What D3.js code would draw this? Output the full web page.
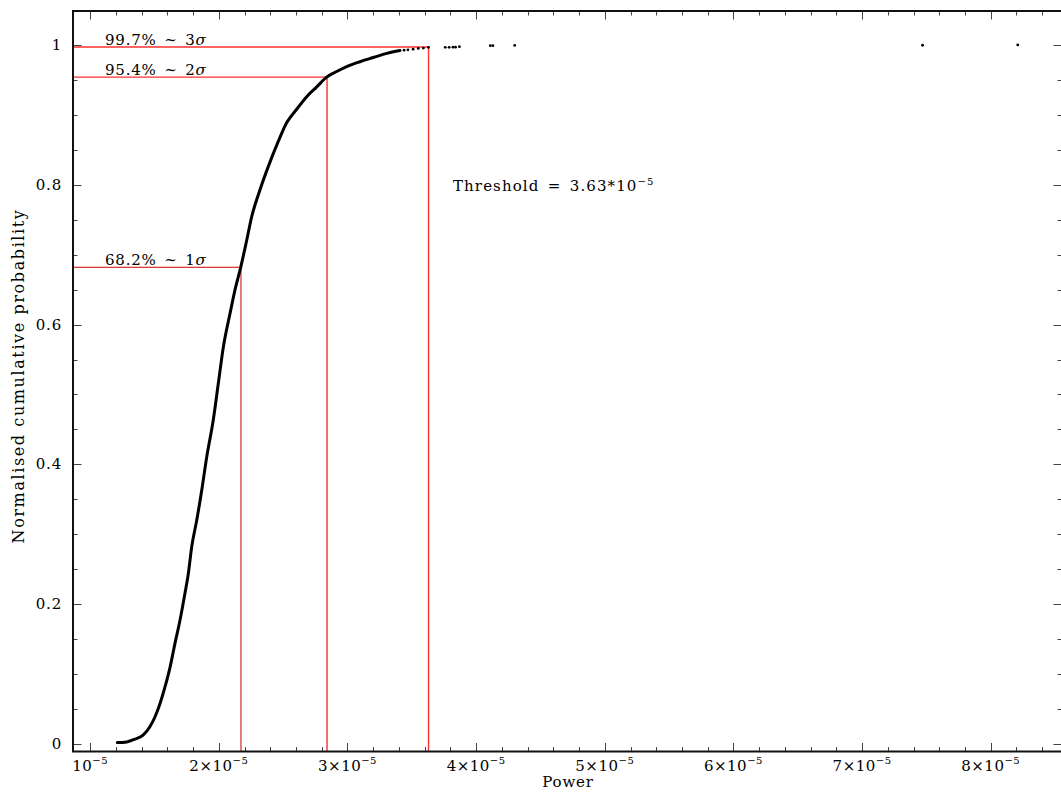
<!DOCTYPE html>
<html>
<head>
<meta charset="utf-8">
<script src="https://cdn.jsdelivr.net/npm/d3@7"></script>
<style>
  body { margin: 0; background: #fff; }
  svg { display: block; }
  text { font-family: "DejaVu Serif", "Liberation Serif", serif; fill: #000; }
</style>
</head>
<body>
<svg id="chart" width="1061" height="793"></svg>
<script>
// Cumulative distribution of power: dense part of the curve
const powerCurve = [1.211, 1.284, 1.348, 1.413, 1.465, 1.504, 1.543, 1.582, 1.621, 1.659,
  1.698, 1.737, 1.763, 1.789, 1.828, 1.867, 1.906, 1.957, 1.996, 2.035, 2.087, 2.126,
  2.170, 2.217, 2.255, 2.320, 2.384, 2.462, 2.528, 2.605, 2.683, 2.761, 2.838, 2.916,
  2.994, 3.097, 3.201, 3.305, 3.408].map(v => v * 1e-5);
const probCurve = [0.002, 0.003, 0.007, 0.013, 0.025, 0.039, 0.058, 0.082, 0.110, 0.144,
  0.177, 0.216, 0.244, 0.282, 0.320, 0.363, 0.411, 0.464, 0.516, 0.568, 0.616, 0.650,
  0.682, 0.721, 0.754, 0.793, 0.826, 0.862, 0.889, 0.908, 0.926, 0.940, 0.954, 0.962,
  0.969, 0.976, 0.982, 0.988, 0.992];

// Sparse high-power tail, drawn as individual points
const powerTail = [3.44, 3.47, 3.51, 3.55, 3.59, 3.63, 3.76, 3.79, 3.82, 3.84, 3.87,
  4.11, 4.13, 4.30, 7.47, 8.21].map(v => v * 1e-5);
const probTail = [0.9925, 0.993, 0.994, 0.995, 0.9955, 0.9965, 0.9966, 0.9966, 0.9968,
  0.9968, 0.9976, 0.999, 0.999, 0.9993, 0.9996, 1.0];

// Confidence levels and the power where the curve reaches them
const levelProb = [0.682, 0.954, 0.997];
const levelPower = [2.172e-5, 2.841e-5, 3.63e-5];
const levelText = ["68.2% ~ 1", "95.4% ~ 2", "99.7% ~ 3"];
const levelColor = ["#d00000", "#ff3030", "#ff3030"];
const levelWidth = [1, 1.4, 1.4];

const thresholdText = "Threshold = 3.63*10";

const xTickValues = [1e-5, 2e-5, 3e-5, 4e-5, 5e-5, 6e-5, 7e-5, 8e-5];
const xTickPrefix = ["", "2×", "3×", "4×", "5×", "6×", "7×", "8×"];
const yTickValues = [0, 0.2, 0.4, 0.6, 0.8, 1];
const yTickLabels = ["0", "0.2", "0.4", "0.6", "0.8", "1"];

const svg = d3.select("#chart");
const plotLeft = 73, plotRight = 1062, plotTop = 11, plotBottom = 751.5;

const x = d3.scaleLinear().domain([0.8663e-5, 8.554e-5]).range([plotLeft, plotRight]);
const y = d3.scaleLinear().domain([-0.0107, 1.0486]).range([plotBottom, plotTop]);

// Tick marks on all four sides (drawn inward)
const xMinor = d3.range(1.0, 8.55, 0.2).map(v => +(v.toFixed(1)) * 1e-5);
const yMinor = d3.range(0, 1.0001, 0.05).map(v => +v.toFixed(2));
const tickG = svg.append("g").attr("stroke", "#444").attr("stroke-width", 1);
xMinor.forEach(v => {
  const major = xTickValues.some(t => Math.abs(t - v) < 1e-9);
  const len = major ? 8.5 : 4.5;
  const px = Math.round(x(v)) + 0.5;
  tickG.append("line").attr("x1", px).attr("x2", px).attr("y1", plotBottom).attr("y2", plotBottom - len);
  tickG.append("line").attr("x1", px).attr("x2", px).attr("y1", plotTop).attr("y2", plotTop + len);
});
yMinor.forEach(v => {
  const major = yTickValues.some(t => Math.abs(t - v) < 1e-9);
  const len = major ? 8.5 : 4.5;
  const py = Math.round(y(v)) + 0.5;
  tickG.append("line").attr("y1", py).attr("y2", py).attr("x1", plotLeft).attr("x2", plotLeft + len);
  tickG.append("line").attr("y1", py).attr("y2", py).attr("x1", plotRight).attr("x2", plotRight - len);
});

// Confidence-level guide lines
levelProb.forEach((p, i) => {
  const g = svg.append("g").attr("stroke", levelColor[i]).attr("stroke-width", levelWidth[i]).attr("fill", "none");
  g.append("line").attr("x1", plotLeft).attr("x2", x(levelPower[i])).attr("y1", y(p)).attr("y2", y(p));
  g.append("line").attr("x1", x(levelPower[i])).attr("x2", x(levelPower[i])).attr("y1", y(p)).attr("y2", plotBottom);
});

// Level labels
levelProb.forEach((p, i) => {
  const t = svg.append("text").attr("x", 105).attr("y", y(p) - 2.5)
    .attr("font-size", 15).attr("letter-spacing", 0.8).attr("word-spacing", 2)
    .text(levelText[i]);
  t.append("tspan").attr("font-style", "italic").text("σ");
});

// Cumulative curve
const line = d3.line().curve(d3.curveMonotoneX)
  .x((d, i) => x(powerCurve[i])).y((d, i) => y(probCurve[i]));
svg.append("path").datum(powerCurve).attr("d", line)
  .attr("fill", "none").attr("stroke", "#000").attr("stroke-width", 3)
  .attr("stroke-linejoin", "round").attr("stroke-linecap", "round");

svg.append("g").selectAll("circle").data(powerTail).join("circle")
  .attr("cx", d => x(d)).attr("cy", (d, i) => y(probTail[i])).attr("r", 1.4).attr("fill", "#000");

// Frame
svg.append("rect").attr("x", plotLeft).attr("y", plotTop).attr("width", plotRight - plotLeft).attr("height", plotBottom - plotTop)
  .attr("fill", "none").attr("stroke", "#111").attr("stroke-width", 2);

// Threshold annotation
const th = svg.append("text").attr("x", 453).attr("y", 191).attr("font-size", 15)
  .attr("letter-spacing", 1.1).attr("word-spacing", 2.5).text(thresholdText);
th.append("tspan").attr("font-size", 10).attr("dy", -6).text("−5");

// X tick labels
xTickValues.forEach((v, i) => {
  const t = svg.append("text").attr("x", x(v)).attr("y", 771).attr("font-size", 15)
    .attr("text-anchor", "middle").attr("letter-spacing", 0.5).text(xTickPrefix[i] + "10");
  t.append("tspan").attr("font-size", 10).attr("dy", -7).text("−5");
});

// Y tick labels
yTickValues.forEach((v, i) => {
  svg.append("text").attr("x", 62).attr("y", y(v) + 5).attr("font-size", 15)
    .attr("text-anchor", "end").attr("letter-spacing", 0.8).text(yTickLabels[i]);
});

// Axis titles
svg.append("text").attr("x", 568).attr("y", 787).attr("font-size", 15)
  .attr("text-anchor", "middle").attr("letter-spacing", 0.8).text("Power");
svg.append("text").attr("transform", "translate(24,376) rotate(-90)").attr("font-size", 16)
  .attr("text-anchor", "middle").attr("letter-spacing", 1.6).text("Normalised cumulative probability");
</script>
</body>
</html>
